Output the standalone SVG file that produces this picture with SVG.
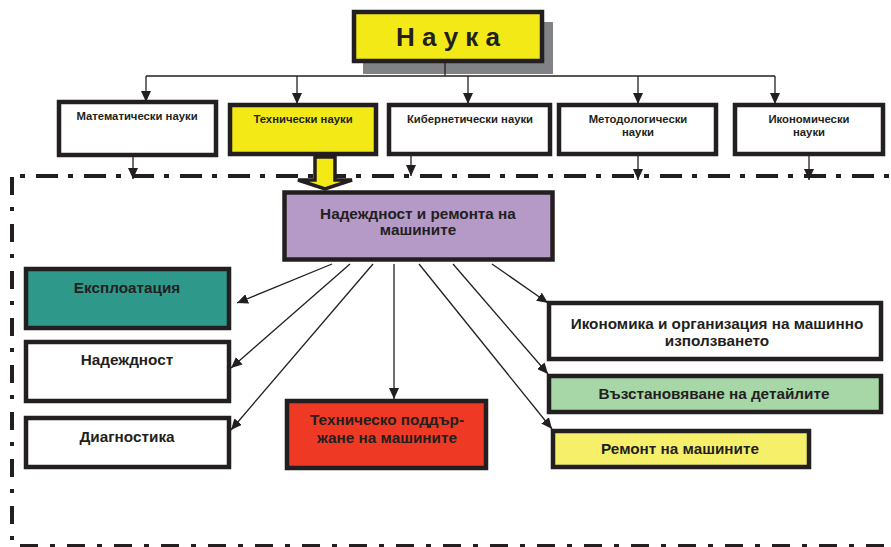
<svg xmlns="http://www.w3.org/2000/svg" width="891" height="547" viewBox="0 0 891 547">
<style>
  .box { stroke: #231f20; stroke-width: 4.5; }
  .t { font-family: "Liberation Sans", Arial, sans-serif; font-weight: bold; fill: #231f20; text-anchor: middle; }
  .s { font-size: 11.3px; }
  .m { font-size: 15.3px; }
  .ln { stroke: #231f20; stroke-width: 1.3; fill: none; }
  .dd { stroke: #231f20; stroke-width: 4; fill: none; }
</style>
<defs>
  <marker id="ah" markerUnits="userSpaceOnUse" markerWidth="11" markerHeight="10" refX="11" refY="5" orient="auto">
    <path d="M0,0 L11,5 L0,10 z" fill="#231f20"/>
  </marker>
</defs>
<rect width="891" height="547" fill="#ffffff"/>

<!-- dash-dot frame -->
<g id="frame">
  <line class="dd" x1="20" y1="176" x2="891" y2="176" stroke-dasharray="5 11 22 10"/>
  <line class="dd" x1="12" y1="177" x2="12" y2="547" stroke-dasharray="18 12 4 13"/>
  <line class="dd" x1="20" y1="546" x2="891" y2="546" stroke-dasharray="18 12 5 12"/>
</g>

<g id="nauka">
  <rect x="363" y="22" width="190" height="52" fill="#808285"/>
  <rect class="box" x="354" y="12" width="188" height="49" fill="#f2e916" stroke-width="4"/>
  <text class="t" x="448" y="46" font-size="26">Н а у к а</text>
</g>

<g id="matematicheski">
  <rect class="box" x="59" y="102" width="157" height="53" fill="#ffffff"/>
  <text class="t s" x="137" y="120">Математически науки</text>
</g>
<g id="tehnicheski">
  <rect class="box" x="230" y="105" width="146" height="49" fill="#f2e916"/>
  <text class="t s" x="303" y="123">Технически науки</text>
</g>
<g id="kiberneticheski">
  <rect class="box" x="389" y="105" width="161" height="49" fill="#ffffff"/>
  <text class="t s" x="470" y="123">Кибернетически науки</text>
</g>
<g id="metodologicheski">
  <rect class="box" x="559" y="105" width="157" height="49" fill="#ffffff"/>
  <text class="t s" x="638" y="123">Методологически</text>
  <text class="t s" x="638" y="136">науки</text>
</g>
<g id="ikonomicheski">
  <rect class="box" x="735" y="105" width="148" height="49" fill="#ffffff"/>
  <text class="t s" x="809" y="123">Икономически</text>
  <text class="t s" x="809" y="136">науки</text>
</g>

<g id="nadezhdnost-remont">
  <rect class="box" x="284.5" y="192.5" width="268" height="67" fill="#b599c7" stroke-width="9"/>
  <text class="t m" x="418" y="219">Надеждност и ремонта на</text>
  <text class="t m" x="418" y="235">машините</text>
</g>

<g id="eksploatacia">
  <rect class="box" x="26" y="269" width="203" height="59" fill="#2e988a"/>
  <text class="t m" x="127" y="293">Експлоатация</text>
</g>
<g id="nadezhdnost">
  <rect class="box" x="26" y="342" width="203" height="59" fill="#ffffff"/>
  <text class="t m" x="127" y="365">Надеждност</text>
</g>
<g id="diagnostika">
  <rect class="box" x="26" y="418" width="203" height="49" fill="#ffffff"/>
  <text class="t m" x="127" y="442">Диагностика</text>
</g>
<g id="tehnichesko-poddarzhane">
  <rect class="box" x="287" y="401" width="199" height="67" fill="#ee3a24"/>
  <text class="t m" x="387" y="425">Техническо поддър-</text>
  <text class="t m" x="387" y="443">жане на машините</text>
</g>
<g id="ikonomika">
  <rect class="box" x="549" y="303" width="332" height="56" fill="#ffffff"/>
  <text class="t m" x="717" y="329">Икономика и организация на машинно</text>
  <text class="t m" x="717" y="346">използването</text>
</g>
<g id="vazstanovyavane">
  <rect class="box" x="549" y="376" width="332" height="36" fill="#a7d6a7"/>
  <text class="t m" x="714" y="399">Възстановяване на детайлите</text>
</g>
<g id="remont">
  <rect class="box" x="553" y="431" width="256" height="36" fill="#f5ef6a"/>
  <text class="t m" x="680" y="454">Ремонт на машините</text>
</g>

<g id="connectors">
  <line class="ln" x1="445" y1="63" x2="445" y2="76"/>
  <line class="ln" x1="146" y1="76" x2="775" y2="76"/>
  <line class="ln" x1="146" y1="76" x2="146" y2="102" marker-end="url(#ah)"/>
  <line class="ln" x1="297" y1="76" x2="297" y2="104" marker-end="url(#ah)"/>
  <line class="ln" x1="468" y1="76" x2="468" y2="104" marker-end="url(#ah)"/>
  <line class="ln" x1="638" y1="76" x2="638" y2="104" marker-end="url(#ah)"/>
  <line class="ln" x1="775" y1="76" x2="775" y2="104" marker-end="url(#ah)"/>
  <line class="ln" x1="133" y1="157" x2="133" y2="179" marker-end="url(#ah)"/>
  <line class="ln" x1="411" y1="156" x2="411" y2="176" marker-end="url(#ah)"/>
  <line class="ln" x1="638" y1="156" x2="638" y2="180" marker-end="url(#ah)"/>
  <line class="ln" x1="809" y1="156" x2="809" y2="180" marker-end="url(#ah)"/>
  <polygon points="315,157 335,157 335,180 352,180 325,189 298,180 315,180" fill="#f2e916" stroke="#231f20" stroke-width="3.5" stroke-linejoin="miter"/>
  <line class="ln" x1="332" y1="264" x2="237" y2="303" marker-end="url(#ah)"/>
  <line class="ln" x1="350" y1="264" x2="231" y2="368" marker-end="url(#ah)"/>
  <line class="ln" x1="373" y1="264" x2="231" y2="430" marker-end="url(#ah)"/>
  <line class="ln" x1="394" y1="264" x2="394" y2="399" marker-end="url(#ah)"/>
  <line class="ln" x1="419" y1="264" x2="552" y2="429" marker-end="url(#ah)"/>
  <line class="ln" x1="453" y1="264" x2="548" y2="374" marker-end="url(#ah)"/>
  <line class="ln" x1="492" y1="264" x2="548" y2="303" marker-end="url(#ah)"/>
</g>
</svg>
